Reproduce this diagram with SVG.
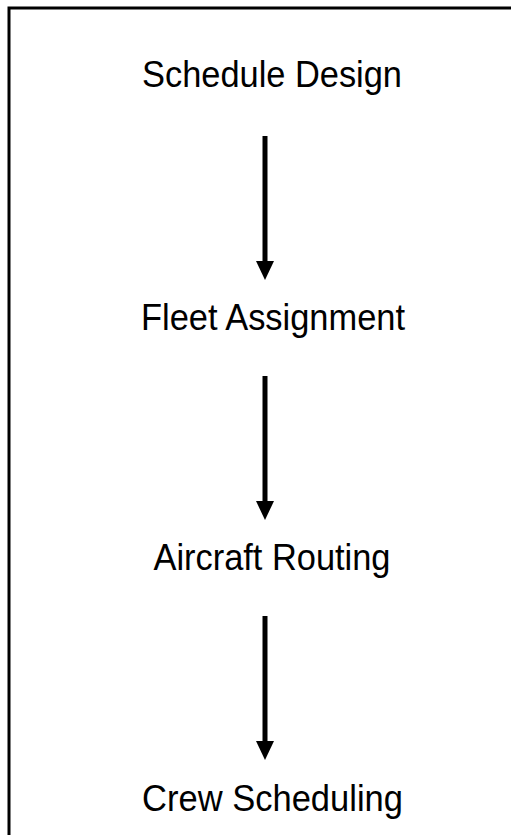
<svg xmlns="http://www.w3.org/2000/svg" width="511" height="835" viewBox="0 0 511 835">
<style>
.lbl{font-family:"Liberation Sans",Arial,sans-serif;font-size:37px;fill:#000;text-anchor:middle}
.shaft{stroke:#000;stroke-width:5;fill:none}
.head{fill:#000}
</style>
<rect width="511" height="835" fill="#fff"/>
<path d="M9,835 V8 H511" fill="none" stroke="#000" stroke-width="3"/>
<g id="node-schedule-design"><text class="lbl" x="272" y="87" textLength="260" lengthAdjust="spacingAndGlyphs">Schedule Design</text></g>
<g id="node-fleet-assignment"><text class="lbl" x="273" y="330" textLength="264" lengthAdjust="spacingAndGlyphs">Fleet Assignment</text></g>
<g id="node-aircraft-routing"><text class="lbl" x="272" y="570" textLength="237" lengthAdjust="spacingAndGlyphs">Aircraft Routing</text></g>
<g id="node-crew-scheduling"><text class="lbl" x="272.5" y="811" textLength="261" lengthAdjust="spacingAndGlyphs">Crew Scheduling</text></g>
<g id="connectors">
<line class="shaft" x1="265" y1="136" x2="265" y2="263"/>
<polygon class="head" points="256,261 274,261 265,280"/>
<line class="shaft" x1="265" y1="376" x2="265" y2="503"/>
<polygon class="head" points="256,501 274,501 265,520"/>
<line class="shaft" x1="265" y1="616" x2="265" y2="743"/>
<polygon class="head" points="256,741 274,741 265,760"/>
</g>
</svg>
